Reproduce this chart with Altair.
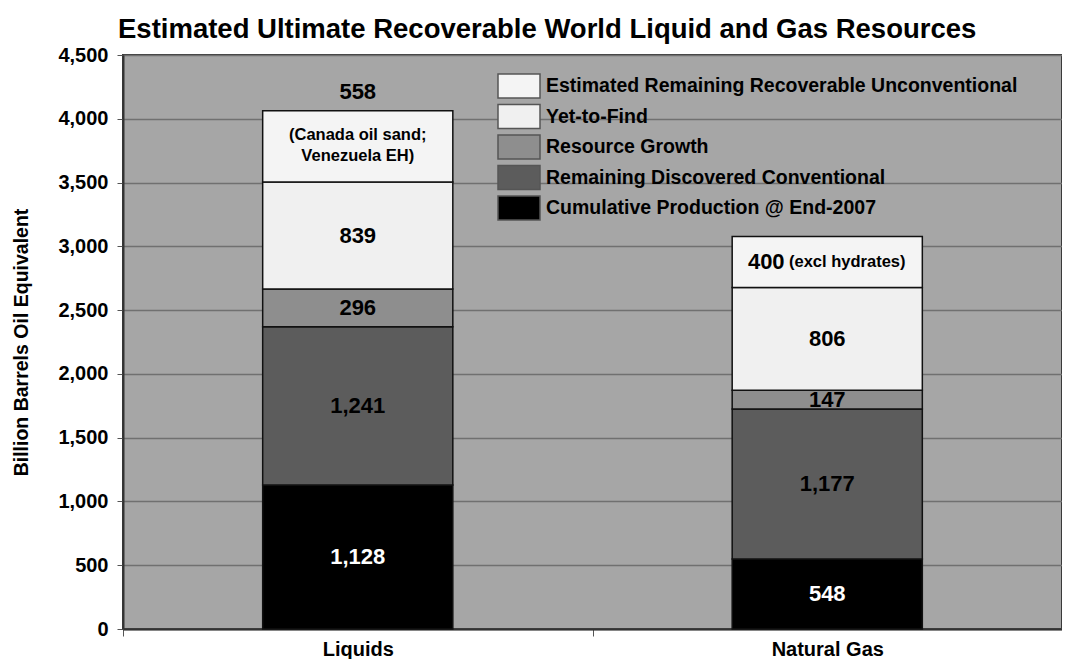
import altair as alt
import pandas as pd

categories = ["Liquids", "Natural Gas"]
segments = [
    "Cumulative Production @ End-2007",
    "Remaining Discovered Conventional",
    "Resource Growth",
    "Yet-to-Find",
    "Estimated Remaining Recoverable Unconventional",
]
liquids = [1128, 1241, 296, 839, 558]
gas = [548, 1177, 147, 806, 400]
notes = ["(Canada oil sand;\nVenezuela EH)", "(excl hydrates)"]
colors = ["#000000", "#5c5c5c", "#8e8e8e", "#f0f0f0", "#f4f4f4"]

rows = []
for cat, vals, note in zip(categories, [liquids, gas], notes):
    for i, (seg, v) in enumerate(zip(segments, vals)):
        rows.append({"resource": cat, "segment": seg, "value": v, "order": i,
                     "note": note if i == len(segments) - 1 else ""})
df = pd.DataFrame(rows)

FONT = "Liberation Sans"
legend_domain = segments[::-1]
legend_range = colors[::-1]

base = alt.Chart(df).transform_stack(
    stack="value", as_=["y0", "y1"], groupby=["resource"],
    sort=[alt.SortField("order", order="ascending")]
).transform_calculate(mid="(datum.y0 + datum.y1) / 2")

x_enc = alt.X("resource:N", sort=categories, title=None,
              scale=alt.Scale(paddingInner=0, paddingOuter=0),
              axis=alt.Axis(labelAngle=0, labelFont=FONT, labelFontSize=20,
                            labelFontWeight="bold", labelColor="black",
                            labelPadding=3, tickBand="extent", tickSize=7,
                            tickColor="#555555", domainColor="#333333",
                            domainWidth=2, grid=False))
y_scale = alt.Scale(domain=[0, 4500], nice=False)

bars = base.mark_bar(width=alt.RelativeBandSize(0.405), stroke="#111111",
                     strokeWidth=1.5).encode(
    x=x_enc,
    y=alt.Y("y0:Q", scale=y_scale, title="Billion Barrels Oil Equivalent",
            axis=alt.Axis(values=list(range(0, 4501, 500)), format=",d",
                          labelFont=FONT, labelFontSize=20, labelFontWeight="bold",
                          labelColor="black", labelPadding=9, tickSize=6,
                          tickColor="#555555", domainColor="#333333",
                          domainWidth=2, gridColor="#707070", gridWidth=1.5,
                          titleFont=FONT, titleFontSize=19.5, titleFontWeight="bold",
                          titleColor="black", titlePadding=26)),
    y2="y1:Q",
    fill=alt.Fill("segment:N",
                  scale=alt.Scale(domain=legend_domain, range=legend_range),
                  legend=alt.Legend(title=None, orient="none", legendX=383, legendY=18,
                                    symbolType="M-1.75,-1H1.75V1H-1.75Z",
                                    symbolSize=576, symbolStrokeColor="#555555",
                                    symbolStrokeWidth=1.5, labelFont=FONT,
                                    labelFontSize=19.5, labelFontWeight="bold",
                                    labelColor="black", labelOffset=14,
                                    rowPadding=0.5, padding=0, labelLimit=700)),
)

labels = base.transform_filter(
    alt.datum.order < len(segments) - 1
).mark_text(font=FONT, fontSize=22, fontWeight="bold", baseline="middle").encode(
    x=alt.X("resource:N", sort=categories),
    y=alt.Y("mid:Q"),
    text=alt.Text("value:Q", format=","),
    color=alt.condition(alt.datum.order == 0, alt.value("white"), alt.value("black")),
)

top_liq = base.transform_filter(
    (alt.datum.order == len(segments) - 1) & (alt.datum.resource == categories[0])
)
top_gas = base.transform_filter(
    (alt.datum.order == len(segments) - 1) & (alt.datum.resource == categories[1])
)

liq_value = top_liq.mark_text(font=FONT, fontSize=22, fontWeight="bold",
                              baseline="middle", dy=-19, color="black").encode(
    x=alt.X("resource:N", sort=categories), y="y1:Q",
    text=alt.Text("value:Q", format=","))
liq_note = top_liq.mark_text(font=FONT, fontSize=16.5, fontWeight="bold",
                             baseline="middle", lineBreak="\n", lineHeight=21,
                             dy=-11, color="black").encode(
    x=alt.X("resource:N", sort=categories), y="mid:Q", text="note:N")
gas_value = top_gas.mark_text(font=FONT, fontSize=22, fontWeight="bold",
                              baseline="middle", dx=-61, color="black").encode(
    x=alt.X("resource:N", sort=categories), y="mid:Q",
    text=alt.Text("value:Q", format=","))
gas_note = top_gas.mark_text(font=FONT, fontSize=16.5, fontWeight="bold",
                             baseline="middle", dx=20, color="black").encode(
    x=alt.X("resource:N", sort=categories), y="mid:Q", text="note:N")

chart = alt.layer(bars, labels, liq_value, liq_note, gas_value, gas_note).properties(
    width=939, height=574,
    autosize=alt.AutoSizeParams(type="none"),
    padding={"left": 115, "top": 47, "right": 0, "bottom": 30},
    title=alt.TitleParams(
        "Estimated Ultimate Recoverable World Liquid and Gas Resources",
        anchor="start", frame="group", font=FONT, fontSize=27.5, fontWeight="bold",
        color="black", dx=-5, offset=2),
).configure(background="white"
).configure_view(fill="#a6a6a6", stroke="#3a3a3a", strokeWidth=2)

chart.save("out.html", embed_options={"renderer": "svg", "actions": False})
